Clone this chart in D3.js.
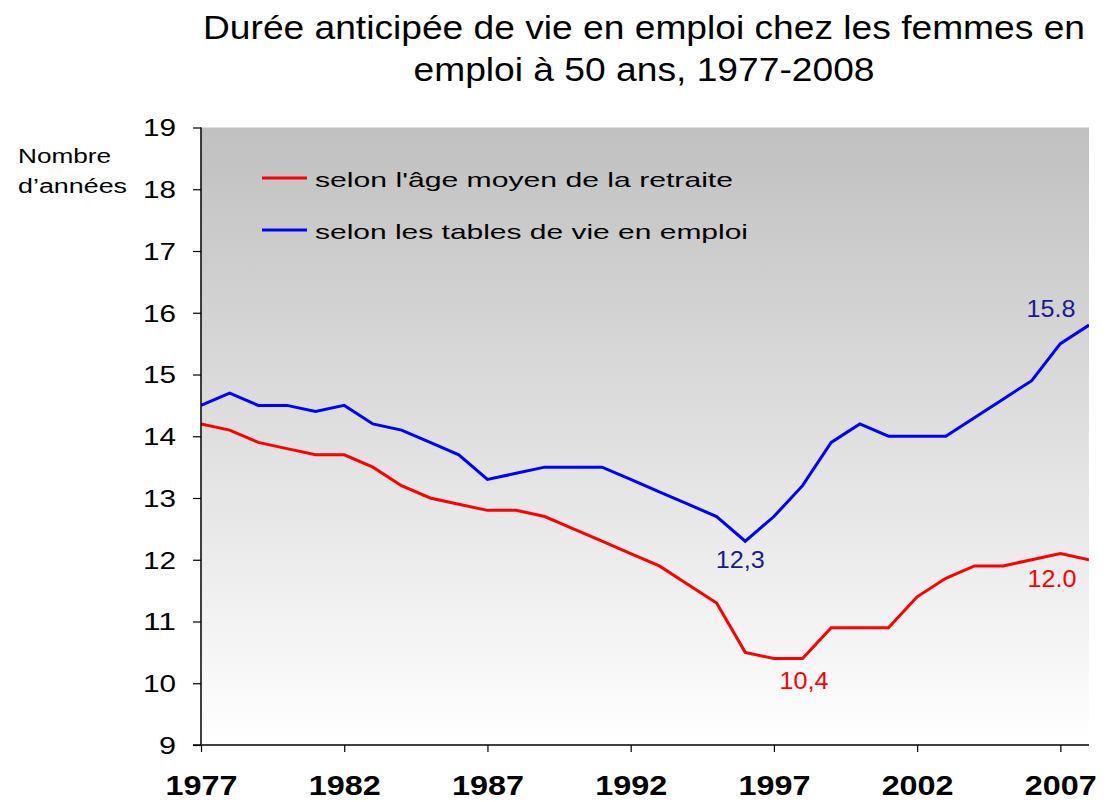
<!DOCTYPE html>
<html><head><meta charset="utf-8">
<script src="https://cdn.jsdelivr.net/npm/d3@7/dist/d3.min.js"></script>
<style>body{margin:0;background:#fff;}svg{display:block;font-family:Arial,"Liberation Sans",sans-serif;}</style>
</head><body>
<svg id="chart" width="1109" height="802"></svg>
<script>
const years = d3.range(1977, 2009);
const retraite = [14.2,14.1,13.9,13.8,13.7,13.7,13.5,13.2,13.0,12.9,12.8,12.8,12.7,12.5,12.3,12.1,11.9,11.6,11.3,10.5,10.4,10.4,10.9,10.9,10.9,11.4,11.7,11.9,11.9,12.0,12.1,12.0];
const tables = [14.5,14.7,14.5,14.5,14.4,14.5,14.2,14.1,13.9,13.7,13.3,13.4,13.5,13.5,13.5,13.3,13.1,12.9,12.7,12.3,12.7,13.2,13.9,14.2,14.0,14.0,14.0,14.3,14.6,14.9,15.5,15.8];
const yTicks = [9,10,11,12,13,14,15,16,17,18,19];
const xTicks = [1977,1982,1987,1992,1997,2002,2007];
const seriesNames = ["selon l'âge moyen de la retraite","selon les tables de vie en emploi"];
const seriesColors = ["#ff0000","#0000ff"];
const titleLines = ["Durée anticipée de vie en emploi chez les femmes en","emploi à 50 ans, 1977-2008"];
const yLabelLines = ["Nombre","d’années"];
const annotations = [
  {text:"15.8", year:2008, value:15.8, dx:-38, dy:-8, color:"#1a1a8c"},
  {text:"12,3", year:1996, value:12.3, dx:-5, dy:27, color:"#1a1a8c"},
  {text:"12.0", year:2008, value:12.0, dx:-37, dy:27, color:"#ff0000"},
  {text:"10,4", year:1998, value:10.4, dx:1.5, dy:30, color:"#ff0000"}
];

const svg = d3.select("#chart");
const L=201, R=1089, T=127.5, B=745;
const x = d3.scaleLinear().domain([1977,2008]).range([L,R]);
const y = d3.scaleLinear().domain([9,19]).range([B,T]);

function stretch(sel, w){
  sel.attr("textLength", w).attr("lengthAdjust","spacingAndGlyphs");
}

const defs = svg.append("defs");
const g = defs.append("linearGradient").attr("id","bg").attr("x1",0).attr("y1",0).attr("x2",0).attr("y2",1);
g.append("stop").attr("offset","0%").attr("stop-color","#c0c0c0");
g.append("stop").attr("offset","100%").attr("stop-color","#ffffff");
defs.append("clipPath").attr("id","clip").append("rect").attr("x",L).attr("y",T-2).attr("width",R-L).attr("height",B-T+2);

svg.append("rect").attr("x",L).attr("y",T).attr("width",R-L).attr("height",B-T).attr("fill","url(#bg)");

// title
const titleW = [882, 461];
titleLines.forEach((t,i)=>{
  svg.append("text").attr("x",644 - titleW[i]/2).attr("y",39+i*42).attr("font-size",33).attr("fill","#000")
    .text(t).call(stretch, titleW[i]);
});

// lines
const line = d3.line().x((d,i)=>x(years[i])).y(d=>y(d));
const lg = svg.append("g").attr("clip-path","url(#clip)");
[retraite,tables].forEach((s,k)=>{
  lg.append("path").datum(s).attr("d",line).attr("fill","none").attr("stroke",seriesColors[k]).attr("stroke-width",3).attr("stroke-linejoin","miter");
});

// axes
const yAxis = d3.axisLeft(y).tickValues(yTicks).tickSize(8).tickFormat(d3.format("d"));
const ya = svg.append("g").attr("transform",`translate(${L},0)`).call(yAxis);
ya.select(".domain").attr("stroke","#000").attr("stroke-width",1.5).attr("d",`M0,${T}V${B}`);
ya.selectAll(".tick line").attr("stroke","#000").attr("stroke-width",1.2);
ya.selectAll(".tick text").attr("font-size",24).attr("font-family","Arial,'Liberation Sans',sans-serif").attr("fill","#000")
  .attr("text-anchor","start").attr("dy","0.35em")
  .each(function(d){
    const w = String(d).length===1 ? 17 : 33;
    d3.select(this).attr("x", -25 - w).call(stretch, w);
  });

const xAxis = d3.axisBottom(x).tickValues(xTicks).tickSize(7).tickFormat(d3.format("d"));
const xa = svg.append("g").attr("transform",`translate(0,${B})`).call(xAxis);
xa.select(".domain").attr("stroke","#000").attr("stroke-width",1.5).attr("d",`M${L-8},0H${R}`);
xa.selectAll(".tick line").attr("stroke","#000").attr("stroke-width",1.2);
xa.selectAll(".tick text").attr("font-size",27).attr("font-weight","bold").attr("font-family","Arial,'Liberation Sans',sans-serif").attr("fill","#000")
  .attr("text-anchor","start").attr("x",-36).attr("y",50).attr("dy",0).call(stretch, 72);

// y label
const yLabW = [93, 109];
yLabelLines.forEach((t,i)=>{
  svg.append("text").attr("x",18).attr("y",163+i*30).attr("font-size",20).attr("fill","#000").text(t).call(stretch, yLabW[i]);
});

// legend
const legW = [418, 433];
seriesNames.forEach((n,k)=>{
  const ly = 178 + k*52;
  svg.append("line").attr("x1",262).attr("x2",307).attr("y1",ly).attr("y2",ly).attr("stroke",seriesColors[k]).attr("stroke-width",3);
  svg.append("text").attr("x",315).attr("y",ly+9).attr("font-size",21).attr("fill","#000").text(n).call(stretch, legW[k]);
});

// annotations
annotations.forEach(a=>{
  svg.append("text").attr("x",x(a.year)+a.dx-24.5).attr("y",y(a.value)+a.dy).attr("font-size",24).attr("fill",a.color).text(a.text).call(stretch, 49);
});
</script>
</body></html>
